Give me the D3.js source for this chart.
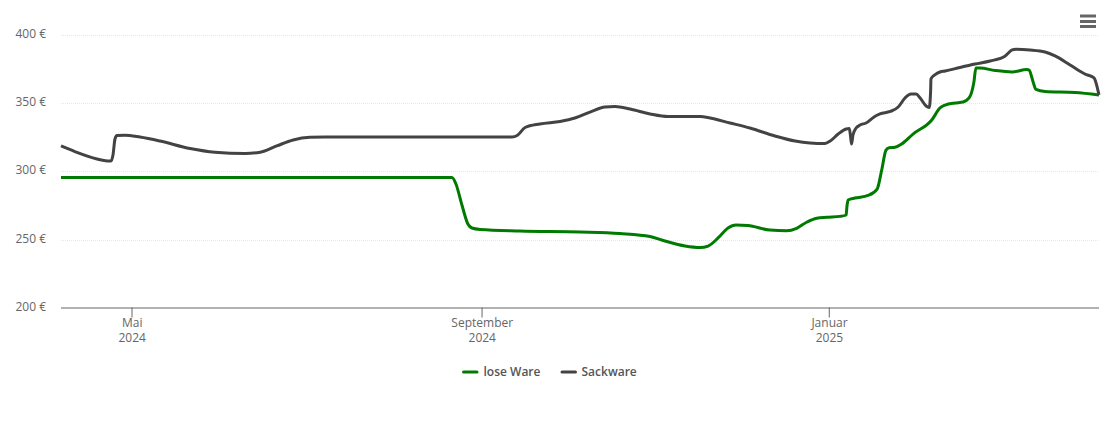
<!DOCTYPE html>
<html><head><meta charset="utf-8">
<script src="https://cdn.jsdelivr.net/npm/d3@7"></script>
<style>html,body{margin:0;padding:0;background:#fff}svg{display:block}text{font-family:"Open Sans",sans-serif}</style>
</head><body><svg id="c" width="1110" height="422"></svg>
<script>
// day offsets from 1 May 2024, and prices in euro
const seriesNames = ["lose Ware", "Sackware"];
const seriesColors = ["#007a00", "#434343"];
const yTicks = [200, 250, 300, 350, 400];
const xTickDates = ["2024-05-01", "2024-09-01", "2025-01-01"];
const xTickLabels = [["Mai", "2024"], ["September", "2024"], ["Januar", "2025"]];

const looseDays = [-24.77,112.6,114,116.1,118.2,119.6,122.5,136.5,157.6,171.6,182.2,187.4,194.5,199.8,202.6,206.1,209.6,212.4,216.6,224.3,230.2,233.7,237.2,240.8,244.3,249,251.1,251.4,251.8,254.2,258.8,262,263.6,265.1,266.2,268.3,270.6,274.6,281.2,284.1,285.9,289.4,292.2,294.3,296,296.7,298.1,303.4,309.4,314.6,315.4,316.8,317.8,321,331.5,339.95];
const looseVals = [295.4,295.4,290.7,275.3,261.4,258.5,257.4,256.3,255.6,254.5,252.3,249,245.3,244.2,245.3,251.2,258.5,260.7,260.3,257,256.5,258.3,262.7,265.6,266.3,267,268,274.6,279,280.4,282.3,287,300.9,315.5,317.2,317.5,319.9,327.2,337.5,346.3,348.4,349.9,350.6,353.6,365.3,375.5,375.5,373.7,372.6,374.4,374,365.3,359.8,358.3,357.6,355.8];

const sackDays = [-24.77,-19.9,-12.1,-9.7,-7.2,-6.5,-5.8,-5.1,-2.3,3,10,20.6,29.3,39.9,45.2,51,56.8,62.7,68,133.7,135.5,138.3,143.5,150.6,155.8,161.1,166.4,169.9,175.2,182.2,188.5,199.8,203.3,210.3,217.3,226.1,233.2,238.4,243.7,245.5,248.3,251.1,252.2,252.6,253,253.5,254.6,256,258.1,260.9,263,266.6,269.4,271.8,273.9,275.7,277.1,279.2,280.3,280.8,280.9,282.4,284.1,285.9,291.1,296.4,301.7,307,309.4,310.8,315.7,321,324.5,329.8,335,338.2,339.3,339.95];
const sackVals = [318.5,314.4,309,307.9,307.5,311.9,323.6,326.1,326.4,325,322.1,316.6,313.9,313,313.9,318.5,322.9,324.8,325,325,326.1,332,334.6,336.4,338.9,343.3,347,347.3,345.5,341.9,340,340,338.9,335.3,331.6,325.8,322.1,320.7,320.3,322.1,327.2,330.9,331.3,326.5,319.9,326.5,331.6,333.8,335.3,339.7,341.9,343.7,347,353.6,356.5,356.5,353.6,347.7,346.6,359.4,367.5,370.7,372.6,373.3,375.9,378.4,380.6,384.3,388.7,389.2,388.7,387.2,384.3,377.7,371.1,368.2,361.6,355.8];

const parse = d3.utcParse("%Y-%m-%d");
const may1 = parse(xTickDates[0]);
const toDate = d => new Date(+may1 + d * 864e5);
const tickDates = xTickDates.map(parse);

const svg = d3.select("#c");
const x = d3.scaleUtc().domain([toDate(-24.77), toDate(339.95)]).range([61, 1099]);
const y = d3.scaleLinear().domain([200, 400]).range([308, 34.5]);

// grid
svg.append("g").selectAll("line").data(yTicks.filter(t => t > 200)).join("line")
  .attr("x1", 61).attr("x2", 1099)
  .attr("y1", d => Math.round(y(d)) + 0.5).attr("y2", d => Math.round(y(d)) + 0.5)
  .attr("stroke", "#e6e6e6").attr("stroke-width", 1).attr("stroke-dasharray", "1,1");

// y labels
svg.append("g").selectAll("text").data(yTicks).join("text")
  .attr("x", 46).attr("y", d => y(d) + 3).attr("text-anchor", "end")
  .attr("font-size", 12).attr("fill", "#666").text(d => d + " €");

// x axis
const axis = d3.axisBottom(x).tickValues(tickDates).tickSize(10).tickFormat("");
const gx = svg.append("g").attr("transform", "translate(0,307.5)").call(axis);
gx.select(".domain").attr("stroke", "#666").attr("d", "M61,0.5H1099");
gx.selectAll(".tick line").attr("stroke", "#666");
const labels = svg.append("g").selectAll("text").data(tickDates).join("text")
  .attr("text-anchor", "middle").attr("font-size", 12).attr("fill", "#666")
  .attr("transform", d => `translate(${x(d) + 0.7},0)`);
labels.append("tspan").attr("x", 0).attr("y", 327).text((d, i) => xTickLabels[i][0]);
labels.append("tspan").attr("x", 0).attr("y", 342).text((d, i) => xTickLabels[i][1]);

// lines
const line = d3.line().x(d => x(toDate(d[0]))).y(d => y(d[1])).curve(d3.curveMonotoneX);
[[looseDays, looseVals], [sackDays, sackVals]].forEach(([ds, vs], i) => {
  svg.append("path").datum(d3.zip(ds, vs)).attr("d", line).attr("fill", "none")
    .attr("stroke", seriesColors[i]).attr("stroke-width", 3)
    .attr("stroke-linejoin", "round").attr("stroke-linecap", "butt");
});

// legend
const legendX = [463.5, 562], legendTextX = [483.5, 581.5];
seriesNames.forEach((n, i) => {
  svg.append("line").attr("x1", legendX[i]).attr("x2", legendX[i] + 13.5).attr("y1", 372).attr("y2", 372)
    .attr("stroke", seriesColors[i]).attr("stroke-width", 3).attr("stroke-linecap", "round");
  svg.append("text").attr("x", legendTextX[i]).attr("y", 376).attr("font-size", 12)
    .attr("font-weight", 600).attr("fill", "#555").text(n);
});

// menu icon
svg.append("g").selectAll("line").data([16, 21.5, 26.5]).join("line")
  .attr("x1", 1080).attr("x2", 1096).attr("y1", d => d).attr("y2", d => d)
  .attr("stroke", "#666").attr("stroke-width", 3);
</script></body></html>
